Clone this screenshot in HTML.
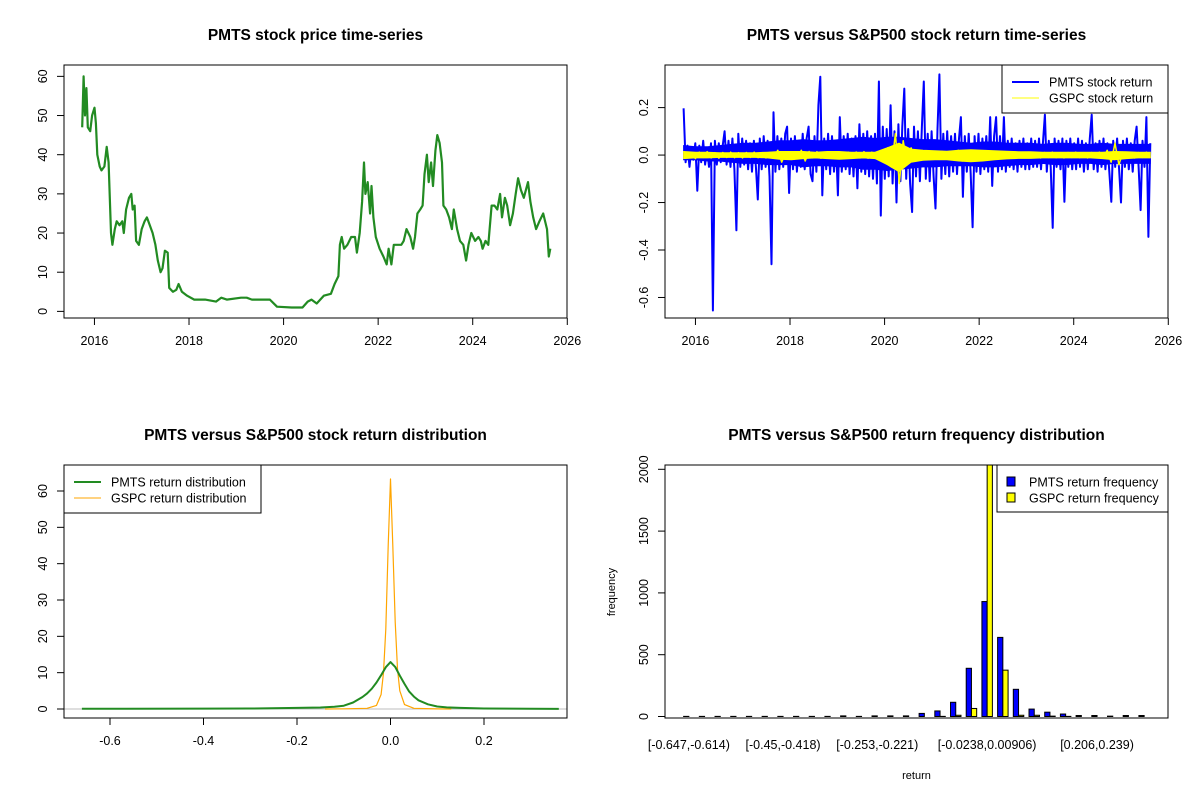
<!DOCTYPE html>
<html><head><meta charset="utf-8"><style>
body{margin:0;background:#fff}
svg{display:block;font-family:"Liberation Sans",Arial,sans-serif}
</style></head><body>
<svg id="chart" width="1200" height="800" viewBox="0 0 1200 800"></svg>
<script>
// ---------- Data ----------
const priceYears=[2015.74,2015.77,2015.80,2015.83,2015.86,2015.91,2015.95,2016.00,2016.03,2016.06,2016.11,2016.15,2016.21,2016.26,2016.30,2016.35,2016.38,2016.43,2016.47,2016.53,2016.59,2016.62,2016.67,2016.73,2016.78,2016.81,2016.85,2016.88,2016.94,2017.00,2017.06,2017.11,2017.17,2017.23,2017.29,2017.34,2017.40,2017.44,2017.49,2017.55,2017.58,2017.66,2017.73,2017.78,2017.85,2017.96,2018.11,2018.34,2018.57,2018.68,2018.80,2019.10,2019.22,2019.33,2019.71,2019.86,2020.17,2020.40,2020.51,2020.59,2020.70,2020.85,2021.00,2021.08,2021.16,2021.19,2021.23,2021.28,2021.35,2021.43,2021.51,2021.55,2021.61,2021.66,2021.70,2021.73,2021.78,2021.83,2021.86,2021.90,2021.95,2022.03,2022.11,2022.18,2022.22,2022.28,2022.33,2022.41,2022.49,2022.54,2022.60,2022.68,2022.74,2022.78,2022.83,2022.89,2022.94,2022.98,2023.03,2023.07,2023.12,2023.16,2023.21,2023.25,2023.30,2023.35,2023.38,2023.44,2023.50,2023.56,2023.60,2023.67,2023.73,2023.80,2023.86,2023.91,2023.97,2024.05,2024.12,2024.17,2024.21,2024.27,2024.33,2024.40,2024.46,2024.52,2024.58,2024.62,2024.68,2024.73,2024.79,2024.85,2024.91,2024.96,2025.02,2025.08,2025.17,2025.22,2025.28,2025.34,2025.41,2025.49,2025.57,2025.61,2025.64];
const priceValues=[47,60,50,57,47,46,50,52,48,40,37,36,37,42,38,20,17,21,23,22,23,20,26,29,30,26,27,18,17,21,23,24,22,20,17,13,10,11,15.5,15,6,5,5.5,7,5,4,3,3,2.5,3.5,3,3.5,3.5,3,3,1.2,1,1,2.5,3,2,4,4.5,7,9,17,19,16,17,19,19,15,20,28,38,30,33,25,32,24,19,16,14,12,16,12,17,17,17,18,21,19,16,19,25,26,27,35,40,33,38,32,41,45,43,38,27,26,24,21,26,21,18,17,13,17,20,18,19,18,16,18,17,27,27,26,30,24,29,27,22,25,30,34,31,29,33,28,24,21,23,25,21,14,16];
const retStart=2015.75, retEnd=2025.62;
const pmtsReturns=[0.197,-0.03,0.04,-0.05,0.03,-0.02,0.05,-0.15,0.04,-0.03,0.06,-0.04,0.03,-0.05,0.05,-0.655,0.06,-0.04,0.05,-0.03,
0.04,0.10,-0.04,0.06,-0.05,0.07,-0.06,-0.317,0.09,-0.05,0.07,-0.04,0.06,-0.06,0.05,-0.07,0.06,-0.05,-0.187,0.07,
-0.06,0.08,-0.05,0.06,-0.09,-0.46,0.18,-0.07,0.08,-0.06,0.07,-0.05,0.09,0.12,-0.16,0.07,-0.06,0.08,-0.07,0.06,
-0.05,0.09,-0.06,0.07,0.12,-0.08,-0.11,0.08,-0.07,0.21,0.33,-0.17,0.07,-0.06,0.09,-0.08,0.08,-0.07,0.06,-0.17,
0.16,-0.07,0.08,-0.06,0.09,-0.08,0.07,-0.09,0.08,-0.14,0.13,-0.07,0.09,-0.08,0.10,-0.09,0.08,-0.10,0.09,-0.12,
0.31,-0.255,0.12,-0.10,0.11,-0.09,0.21,-0.12,0.10,-0.20,0.13,-0.11,0.12,0.28,-0.10,0.11,-0.12,-0.24,0.12,-0.09,
0.10,-0.11,0.12,0.31,-0.10,0.09,-0.11,0.10,-0.09,-0.225,0.11,0.34,-0.10,0.09,-0.08,0.10,-0.09,0.08,-0.07,0.09,
-0.08,0.07,0.16,-0.176,0.08,-0.07,0.09,-0.08,-0.304,0.08,-0.07,0.09,-0.08,0.07,-0.06,0.08,-0.07,0.16,-0.13,0.08,
0.16,-0.07,0.08,-0.06,0.16,-0.07,0.06,-0.05,0.07,-0.06,0.05,-0.07,0.06,-0.05,0.07,-0.06,0.05,-0.06,0.07,-0.05,
0.06,-0.05,0.07,-0.06,0.05,0.17,-0.07,0.06,-0.05,-0.307,0.07,-0.05,0.06,-0.06,0.07,-0.197,0.06,-0.05,0.07,-0.06,
0.05,-0.06,0.07,-0.05,0.06,-0.07,0.05,-0.06,0.07,0.17,-0.06,0.05,-0.07,0.06,-0.05,0.07,-0.06,0.05,-0.07,-0.197,
0.06,-0.05,0.07,-0.06,-0.20,0.06,-0.05,0.07,-0.06,0.05,-0.07,0.06,0.12,-0.05,-0.232,0.06,-0.05,0.16,-0.345,0.05];
const pmtsBandUpper=[0.04,0.035,0.035,0.04,0.045,0.05,0.05,0.055,0.06,0.06,0.065,0.06,0.06,0.065,0.07,0.075,0.07,0.075,0.075,0.07,0.065,0.065,0.06,0.055,0.05,0.055,0.055,0.05,0.05,0.05,0.045,0.05,0.05,0.045,0.045,0.05,0.045,0.045,0.045,0.045];
const pmtsBandLower=[-0.02,-0.02,-0.025,-0.025,-0.03,-0.035,-0.035,-0.04,-0.04,-0.04,-0.05,-0.045,-0.045,-0.05,-0.05,-0.06,-0.06,-0.065,-0.06,-0.055,-0.05,-0.05,-0.045,-0.045,-0.045,-0.05,-0.05,-0.045,-0.04,-0.04,-0.035,-0.04,-0.04,-0.035,-0.035,-0.04,-0.035,-0.035,-0.035,-0.035];
const gspcBandUpper=[0.015,0.012,0.012,0.01,0.01,0.01,0.01,0.012,0.015,0.015,0.015,0.012,0.015,0.015,0.012,0.012,0.012,0.03,0.05,0.025,0.02,0.018,0.016,0.02,0.022,0.02,0.018,0.016,0.014,0.014,0.012,0.012,0.012,0.012,0.012,0.012,0.015,0.014,0.012,0.012];
const gspcBandLower=[-0.015,-0.012,-0.012,-0.01,-0.01,-0.01,-0.01,-0.012,-0.018,-0.02,-0.015,-0.012,-0.015,-0.018,-0.015,-0.012,-0.015,-0.04,-0.07,-0.03,-0.022,-0.02,-0.02,-0.025,-0.028,-0.025,-0.02,-0.016,-0.014,-0.014,-0.012,-0.012,-0.012,-0.012,-0.012,-0.015,-0.02,-0.015,-0.012,-0.012];
const gspcReturns=[0.015,-0.012,0.01,-0.015,0.012,-0.01,0.014,-0.012,0.01,-0.013,
0.011,-0.01,0.012,-0.011,0.01,-0.012,0.011,-0.01,0.012,-0.011,
0.01,-0.012,0.011,-0.01,0.02,-0.03,0.012,-0.015,0.011,-0.012,
0.02,-0.025,0.015,-0.012,0.014,-0.013,0.012,-0.011,0.013,-0.012,
0.011,-0.013,0.012,-0.011,0.013,-0.012,0.014,-0.013,0.012,-0.015,
0.014,-0.02,0.03,-0.05,0.09,-0.12,0.06,-0.04,0.03,-0.025,
0.02,-0.018,0.016,-0.015,0.014,-0.013,0.015,-0.014,0.016,-0.015,
0.02,-0.025,0.018,-0.02,0.016,-0.018,0.015,-0.014,0.013,-0.012,
0.014,-0.013,0.012,-0.011,0.013,-0.012,0.011,-0.01,0.012,-0.011,
0.01,-0.012,0.011,-0.01,0.012,-0.011,0.01,-0.012,0.011,-0.01,
0.012,-0.011,0.01,-0.012,0.011,-0.01,0.012,-0.013,0.02,-0.03,
0.05,-0.04,0.012,-0.011,0.01,-0.012,0.011,-0.01,0.012,-0.011];
const pmtsDensX=[-0.66,-0.4,-0.3,-0.2,-0.15,-0.12,-0.1,-0.08,-0.06,-0.05,-0.04,-0.03,-0.02,-0.01,0,0.01,0.02,0.03,0.04,0.05,0.06,0.08,0.1,0.12,0.15,0.2,0.3,0.36];
const pmtsDensY=[0.05,0.1,0.15,0.3,0.4,0.6,0.9,1.8,3.3,4.3,5.6,7.3,9.3,11.5,12.9,11.6,9.2,6.9,4.8,3.4,2.4,1.3,0.7,0.45,0.3,0.15,0.05,0.02];
const gspcDensX=[-0.14,-0.1,-0.05,-0.03,-0.02,-0.015,-0.01,-0.005,0,0.005,0.01,0.015,0.02,0.03,0.05,0.1,0.13];
const gspcDensY=[0,0.05,0.2,1,4,10,22,45,63.3,45,24,11,5,1.2,0.2,0.03,0];
const histPmts=[1,1,1,1,1,1,1,1,1,1,5,1,5,5,5,25,45,115,390,930,640,220,60,35,20,8,8,3,8,8];
const histGspc=[0,0,0,0,0,0,0,0,0,0,0,0,0,0,0,0,1,10,65,2050,375,10,10,3,1,0,0,0,0,0];
const histLabels=[[0,"[-0.647,-0.614)"],[6,"[-0.45,-0.418)"],[12,"[-0.253,-0.221)"],[19,"[-0.0238,0.00906)"],[26,"[0.206,0.239)"]];
const priceTicksX=[2016,2018,2020,2022,2024,2026];
const priceTicksY=[0,10,20,30,40,50,60];
const retTicksY=[-0.6,-0.4,-0.2,0.0,0.2];
const densTicksX=[-0.6,-0.4,-0.2,0.0,0.2];
const densTicksY=[0,10,20,30,40,50,60];
const histTicksY=[0,500,1000,1500,2000];

// ---------- Helpers ----------
const NS="http://www.w3.org/2000/svg";
const svg=document.getElementById('chart');
function mk(tag,attrs,parent,text){const e=document.createElementNS(NS,tag);for(const k in attrs)e.setAttribute(k,attrs[k]);if(text!==undefined)e.textContent=text;(parent||svg).appendChild(e);return e;}
function lin(d0,d1,r0,r1){return v=>r0+(v-d0)/(d1-d0)*(r1-r0);}
function panel(name,L,T,R,B){const g=mk('g',{});return {g,L,T,R,B};}
function frame(p){const r=mk('rect',{x:p.L,y:p.T,width:p.R-p.L,height:p.B-p.T,fill:'none',stroke:'#000','stroke-width':1},p.g);}
function title(p,t){const e=mk('text',{x:(p.L+p.R)/2,y:p.T-25,'text-anchor':'middle','font-size':'15.5px','font-weight':'bold'},p.g,t);}
function xAxis(p,ticks,sx,fmt){const g=mk('g',{},p.g);
 ticks.forEach(t=>{const x=sx(t);mk('line',{x1:x,x2:x,y1:p.B,y2:p.B+7,stroke:'#000'},g);const l=mk('text',{x:x,y:p.B+27,'text-anchor':'middle','font-size':'12.5px'},g,fmt(t));});}
function yAxis(p,ticks,sy,fmt){const g=mk('g',{},p.g);
 ticks.forEach(t=>{const y=sy(t);mk('line',{x1:p.L,x2:p.L-7,y1:y,y2:y,stroke:'#000'},g);const tx=p.L-17;const l=mk('text',{x:tx,y:y,'text-anchor':'middle','font-size':'12.5px',transform:`rotate(-90 ${tx} ${y})`},g,fmt(t));});}
function poly(p,xs,ys,sx,sy,color,w,name){const pts=xs.map((x,i)=>sx(x).toFixed(1)+','+sy(ys[i]).toFixed(1)).join(' ');const e=mk('polyline',{points:pts,fill:'none',stroke:color,'stroke-width':w,'stroke-linejoin':'round'},p.g);return e;}
function band(p,up,lo,sx,sy,color,name){const n=up.length;const d=up.map((_,i)=>retStart+i*(retEnd-retStart)/(n-1));
 const pts=d.map((x,i)=>sx(x).toFixed(1)+','+sy(up[i]).toFixed(1)).concat(d.slice().reverse().map((x,j)=>sx(x).toFixed(1)+','+sy(lo[n-1-j]).toFixed(1))).join(' ');
 const e=mk('polygon',{points:pts,fill:color,stroke:color,'stroke-width':1},p.g);}
function legend(p,x,y,w,h,items){const g=mk('g',{},p.g);
 mk('rect',{x,y,width:w,height:h,fill:'#fff',stroke:'#000'},g);
 items.forEach((it,i)=>{const cy=y+17+i*16;const ent=mk('g',{},g);
  if(it.box){mk('rect',{x:x+10,y:cy-5,width:8,height:9,fill:it.color,stroke:'#000'},ent);}
  else mk('line',{x1:x+10,x2:x+37,y1:cy,y2:cy,stroke:it.color,'stroke-width':it.w},ent);
  mk('text',{x:x+(it.box?32:47),y:cy+4.5,'font-size':'12.5px'},ent,it.label);});}

// ---------- Panel 1: price ----------
{const p=panel('price-panel',64,65,567,318);
 const sx=lin(2015.356,2025.994,p.L,p.R), sy=lin(-1.69,62.9,p.B,p.T);
 poly(p,priceYears,priceValues,sx,sy,'#228B22',2.2,'price-line');
 frame(p);title(p,'PMTS stock price time-series');
 xAxis(p,priceTicksX,sx,t=>String(t));yAxis(p,priceTicksY,sy,t=>String(t));}

// ---------- Panel 2: returns ----------
{const p=panel('returns-panel',665,65,1168,318);
 const sx=lin(2015.356,2025.994,p.L,p.R), sy=lin(-0.6865,0.3795,p.B,p.T);
 const n=pmtsReturns.length, pd=pmtsReturns.map((_,i)=>retStart+i*(retEnd-retStart)/(n-1));
 poly(p,pd,pmtsReturns,sx,sy,'#0000FF',2,'pmts-return-line');
 band(p,pmtsBandUpper,pmtsBandLower,sx,sy,'#0000FF','pmts-return-band');
 band(p,gspcBandUpper,gspcBandLower,sx,sy,'#FFFF00','gspc-return-band');
 const m=gspcReturns.length, gd=gspcReturns.map((_,i)=>retStart+i*(retEnd-retStart)/(m-1));
 poly(p,gd,gspcReturns,sx,sy,'#FFFF00',1.5,'gspc-return-line');
 frame(p);title(p,'PMTS versus S&P500 stock return time-series');
 xAxis(p,priceTicksX,sx,t=>String(t));yAxis(p,retTicksY,sy,t=>t.toFixed(1));
 legend(p,1002,65,166,48,[{color:'#0000FF',w:2,label:'PMTS stock return'},{color:'#FFFF00',w:1,label:'GSPC stock return'}]);}

// ---------- Panel 3: density ----------
{const p=panel('density-panel',64,465,567,718);
 const sx=lin(-0.6,0.2,110,484), sy=lin(0,60,709,491);
 const base=mk('line',{x1:p.L,x2:p.R,y1:sy(0),y2:sy(0),stroke:'#BEBEBE'},p.g);
 poly(p,gspcDensX,gspcDensY,sx,sy,'#FFA500',1.2,'gspc-density-line');
 poly(p,pmtsDensX,pmtsDensY,sx,sy,'#228B22',2,'pmts-density-line');
 frame(p);title(p,'PMTS versus S&P500 stock return distribution');
 xAxis(p,densTicksX,sx,t=>t.toFixed(1));yAxis(p,densTicksY,sy,t=>String(t));
 legend(p,64,465,197,48,[{color:'#228B22',w:2,label:'PMTS return distribution'},{color:'#FFA500',w:1,label:'GSPC return distribution'}]);}

// ---------- Panel 4: histogram ----------
{const p=panel('histogram-panel',665,465,1168,718);
 const sx=lin(-2.56,93.56,p.L,p.R), sy=lin(0,2000,716.5,469.3);
 const cp=mk('clipPath',{id:'hclip'});mk('rect',{x:p.L,y:p.T,width:p.R-p.L,height:p.B-p.T},cp);
 const bars=mk('g',{'clip-path':'url(#hclip)'},p.g);
 histPmts.forEach((v,k)=>{const x0=sx(3*k+1),x1=sx(3*k+2);const r=mk('rect',{x:x0,y:sy(v),width:x1-x0,height:sy(0)-sy(v),fill:'#0000FF',stroke:'#000','stroke-width':1},bars);});
 histGspc.forEach((v,k)=>{const x0=sx(3*k+2),x1=sx(3*k+3);const r=mk('rect',{x:x0,y:sy(v),width:x1-x0,height:sy(0)-sy(v),fill:'#FFFF00',stroke:'#000','stroke-width':1},bars);});
 frame(p);title(p,'PMTS versus S&P500 return frequency distribution');
 yAxis(p,histTicksY,sy,t=>String(t));
 histLabels.forEach(([k,t])=>{const l=mk('text',{x:sx(3*k+2),y:749,'text-anchor':'middle','font-size':'12.5px'},p.g,t);});
 const xl=mk('text',{x:(p.L+p.R)/2,y:779,'text-anchor':'middle','font-size':'11px'},p.g,'return');
 const yl=mk('text',{x:615,y:592,'text-anchor':'middle','font-size':'11px',transform:'rotate(-90 615 592)'},p.g,'frequency');
 legend(p,997,465,171,47,[{color:'#0000FF',box:true,label:'PMTS return frequency'},{color:'#FFFF00',box:true,label:'GSPC return frequency'}]);}
</script>
</body></html>
